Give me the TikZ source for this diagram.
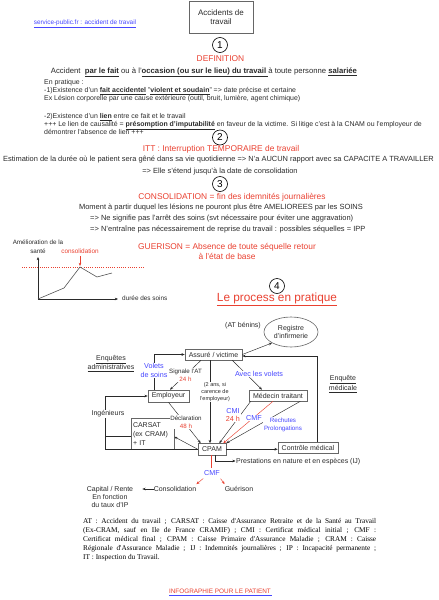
\documentclass[tikz,border=0pt]{standalone}
\usepackage{fontspec}
\setmainfont{Liberation Sans}
\newfontfamily\timesf{Liberation Serif}
\usetikzlibrary{arrows.meta,shapes.geometric}
\definecolor{rd}{HTML}{E94030}
\definecolor{bl}{HTML}{4646FF}
\definecolor{tx}{HTML}{2A2A2A}
\definecolor{bx}{HTML}{666666}
\newcommand\fs[2]{\fontsize{#1}{#2}\selectfont}
\begin{document}
\begin{tikzpicture}[x=1pt,y=-1pt,
  every node/.style={text=tx},
  t/.style={inner sep=0pt, text height=0.72em, text depth=0.21em},
  ml/.style={inner sep=0pt, align=center},
  bw/.style={t, anchor=west, font=\fs{6.95}{8}},
  head/.style={t, font=\fs{8.4}{10}, text=rd},
  num/.style={circle, draw=black, line width=0.6pt, minimum size=15pt, inner sep=0pt, font=\fs{10}{10}, text=black},
  fbox/.style={draw=bx, line width=0.6pt, inner sep=0pt, font=\fs{7}{8.5}},
  lbl/.style={fill=white, inner sep=0.8pt, align=center, font=\fs{6.2}{7.5}},
  arr/.style={draw=tx, line width=0.45pt, -{Stealth[length=3.2pt,width=2.6pt]}},
  rarr/.style={draw=rd, line width=0.45pt, -{Stealth[length=3.2pt,width=2.6pt]}},
  ln/.style={draw=tx, line width=0.45pt},
  foot/.style={inner sep=0pt, anchor=west, text=black, font=\timesf\fs{7.3}{9}, text height=0.7em, text depth=0.2em},
]
\useasboundingbox (0,0) rectangle (439,600);

% ---- header
\node[draw=bx, line width=0.8pt, minimum width=64pt, minimum height=32pt, inner sep=0pt, align=center, font=\fs{8}{9.5}] (title) at (221,17) {Accidents de\\travail};
\node[t, font=\fs{6.4}{7}, text=bl] (link) at (85,22) {\underline{service-public.fr : accident de travail}};

% ---- 1
\node[num] (n1) at (220,45) {1};
\node[head] (def) at (220.5,59) {DEFINITION};
\node[t, font=\fs{7.7}{9}] (acc) at (204,71) {Accident \ \textbf{\underline{par le fait}} ou à l'\textbf{\underline{occasion (ou sur le lieu) du travail }}à toute personne \textbf{\underline{salariée}}};
\node[bw] (p0) at (44,82) {En pratique :};
\node[bw] (p1) at (44,90) {-1)Existence d'un \textbf{\underline{fait accidentel}} "\textbf{\underline{violent et soudain}}" => date précise et certaine};
\node[bw] (p2) at (44,98) {Ex Lésion corporelle par une cause extérieure (outil, bruit, lumière, agent chimique)};
\node[bw] (p3) at (44,116) {-2)Existence d'un \textbf{\underline{lien}} entre ce fait et le travail};
\node[bw] (p4) at (44,124) {+++ Le lien de causalité = \textbf{\underline{présomption d'imputabilité}} en faveur de la victime. Si litige c'est à la CNAM ou l'employeur de};
\node[bw] (p5) at (44,132) {démontrer l'absence de lien +++};

% ---- 2
\node[num] (n2) at (220,137.5) {2};
\node[head] (itt) at (221,149) {ITT : Interruption TEMPORAIRE de travail};
\node[t, font=\fs{7.45}{8}] (est) at (218.5,158.5) {Estimation de la durée où le patient sera gêné dans sa vie quotidienne => N'a AUCUN rapport avec sa CAPACITE A TRAVAILLER};
\node[t, font=\fs{7.45}{8}] (ete) at (220,171) {=> Elle s'étend jusqu'à la date de consolidation};

% ---- 3
\node[num] (n3) at (220,184) {3};
\node[head] (cons0) at (232,197) {CONSOLIDATION = fin des idemnités journalières};
\node[t, font=\fs{7.5}{8}] (mom) at (221,207) {Moment à partir duquel les lésions ne pouront plus être AMELIOREES par les SOINS};
\node[t, anchor=west, font=\fs{7.5}{8}] (sig) at (90,218) {=> Ne signifie pas l'arrêt des soins (svt nécessaire pour éviter une aggravation)};
\node[t, anchor=west, font=\fs{7.5}{8}] (ent) at (90,229) {=> N'entraîne pas nécessairement de reprise du travail : possibles séquelles = IPP};
\node[ml, font=\fs{8.4}{10}, text=rd] (gue) at (227,251) {GUERISON = Absence de toute séquelle retour\\à l'état de base};

% ---- graph
\draw[draw=rd, dash pattern=on 1pt off 1.2pt, line width=0.7pt] (22,267) -- (145,267);
\draw[arr] (38,299) -- (38,257);
\draw[arr] (38,299) -- (118,299);
\draw[draw=tx!80, line width=0.6pt] (38,299) -- (64,288) -- (80,267) -- (97,277) -- (112,273);
\node[ml, font=\fs{6.3}{9}] (amel) at (38,246.5) {Amélioration de la\\santé};
\node[t, font=\fs{6.4}{7}, text=rd] (consl) at (80,251) {consolidation};
\draw[rarr] (consl.south) -- (80,266);
\node[t, anchor=west, font=\fs{6.4}{7}] (dur) at (122,298) {durée des soins};

% ---- 4
\node[num] (n4) at (277,286) {4};
\node[t, font=\fs{11.8}{13}, text=rd] (proc) at (277,299) {\underline{Le process en pratique}};

% ---- flowchart
\node[ellipse, draw=bx, line width=0.6pt, minimum width=54pt, minimum height=30pt, inner sep=0pt, align=center, font=\fs{7}{8.3}] (reg) at (291,332) {Registre\\d'infirmerie};
\node[t, font=\fs{7}{8}] (atb) at (243,325) {(AT bénins)};
\node[fbox, minimum width=57pt, minimum height=11pt] (ass) at (213.5,354.5) {Assuré / victime};
\node[fbox, minimum width=41pt, minimum height=12pt] (emp) at (168.5,396) {Employeur};
\node[fbox, minimum width=58pt, minimum height=11pt] (med) at (278,395.5) {Médecin traitant};
\node[fbox, minimum width=28pt, minimum height=11.5pt] (cpam) at (212,449.25) {CPAM};
\node[fbox, minimum width=60pt, minimum height=11pt] (ctrl) at (308,447.5) {Contrôle médical};
\node[fbox, minimum width=43pt, minimum height=30.5pt, align=left, text width=39pt, font=\fs{7}{9}] (car) at (152.5,433.75) {CARSAT\\(ex CRAM)\\+ IT};

\node[ml, font=\fs{7}{9}] (enqa) at (111,363.5) {\underline{Enquêtes}\\\underline{administratives}};
\node[ml, font=\fs{7}{8.5}] (enqm) at (343,384) {\underline{Enquête}\\\underline{médicale}};

\draw[arr] (ass.east) -- (reg.210);
\draw[arr] ([xshift=7pt]emp.north west) |- (ass.west);
\node[lbl, font=\fs{7.2}{9}, text=bl] (vol) at (154,370.5) {Volets\\de soins};

\draw[arr] ([xshift=-12.5pt]ass.south) -- ([xshift=1.5pt]emp.north) node[lbl, pos=0.5] (sigat) {Signale l'AT\\\textcolor{rd}{24 h}};

\draw[arr] ([xshift=-3.5pt]ass.south) -- ([xshift=-2pt]cpam.north);
\node[lbl, font=\fs{5.5}{7}] (ans) at (215,392) {(2 ans, si\\carence de\\l'employeur)};

\draw[arr] ([xshift=-10pt]ass.south east) -- ([xshift=-16pt]med.north);
\node[lbl, font=\fs{7.2}{8}, text=bl] (avec) at (259,374) {Avec les volets};

\draw[arr] ([xshift=9pt]ctrl.north) |- ([yshift=-1.5pt]ass.east);

\draw[arr] ([xshift=2pt]med.south west) -- ([xshift=-7pt]cpam.north east);
\node[lbl, font=\fs{7.2}{8}] (cmi) at (233,415) {\textcolor{bl}{CMI}\\\textcolor{rd}{24 h}};

\draw[rarr] ([xshift=-5pt]med.south) -- ([xshift=-3pt]cpam.north east);
\node[lbl, font=\fs{7.2}{8}, text=bl] (cmf1) at (254,418) {CMF};

\draw[arr] ([xshift=-7pt]med.south east) -- (cpam.north east);
\node[lbl, font=\fs{6.2}{8}, text=bl] (rech) at (283,425) {Rechutes\\Prolongations};

\draw[arr] (emp.south) -- ([xshift=3pt]cpam.north west);
\node[lbl] (decl) at (186,422) {Déclaration\\\textcolor{rd}{48 h}};

\draw[arr] (cpam.west) -- ([yshift=-3pt]car.east);

\coordinate (ingb) at (105,449.25);
\coordinate (ingm) at (105,436);
\draw[arr] (cpam.west) -- (ingb) |- (emp.west);
\draw[ln] (ingm) -- (ingm -| car.west);
\node[lbl, font=\fs{7}{8}] (ing) at (108,414) {Ingénieurs};

\draw[arr] (cpam.east) -- (cpam.east -| ctrl.west);
\node[t, anchor=west, font=\fs{7}{8}, inner sep=0.5pt] (prest) at (235.5,461) {Prestations en nature et en espèces (IJ)};
\draw[arr] ([xshift=3pt]cpam.south) |- (prest.west);

\node[t, font=\fs{7.2}{8}, text=bl] (cmf2) at (212,473) {CMF};
\draw[draw=rd, line width=0.6pt] ([xshift=-1pt]cpam.south) -- ([xshift=-1pt]cmf2.north);
\node[t, font=\fs{7}{8}] (cons) at (175,489) {Consolidation};
\node[t, font=\fs{7}{8}] (guer) at (239,489) {Guérison};
\draw[rarr, shorten <=1pt] (cmf2.south west) -- (cons.north east);
\draw[rarr, shorten <=1pt] (cmf2.south east) -- (guer.north west);
\node[t, font=\fs{7}{8}] (cap) at (110,489) {Capital / Rente};
\node[ml, font=\fs{7}{8.3}, anchor=north] (taux) at (110,494) {En fonction\\du taux d'IP};
\draw[arr, shorten >=9pt] (cons.west) -- (cap.east);

% ---- footnote
\node[foot] (f1) at (83,521) {\makebox[293pt][s]{AT : Accident du travail ; CARSAT : Caisse d'Assurance Retraite et de la Santé au Travail}};
\node[foot] (f2) at (83,529.5) {\makebox[293pt][s]{(Ex-CRAM, sauf en Ile de France CRAMIF) ; CMI : Certificat médical initial ; CMF :}};
\node[foot] (f3) at (83,538.5) {\makebox[293pt][s]{Certificat médical final ; CPAM : Caisse Primaire d'Assurance Maladie ; CRAM : Caisse}};
\node[foot] (f4) at (83,548) {\makebox[293pt][s]{Régionale d'Assurance Maladie ; IJ : Indemnités journalières ; IP : Incapacité permanente ;}};
\node[foot] (f5) at (83,557) {IT : Inspection du Travail.};

\node[t, font=\fs{6.4}{7}] (info) at (220.5,591) {\textcolor{bl}{\underline{\textcolor{rd}{INFOGRAPHIE POUR LE PATIENT\,}}}};
\end{tikzpicture}
\end{document}
